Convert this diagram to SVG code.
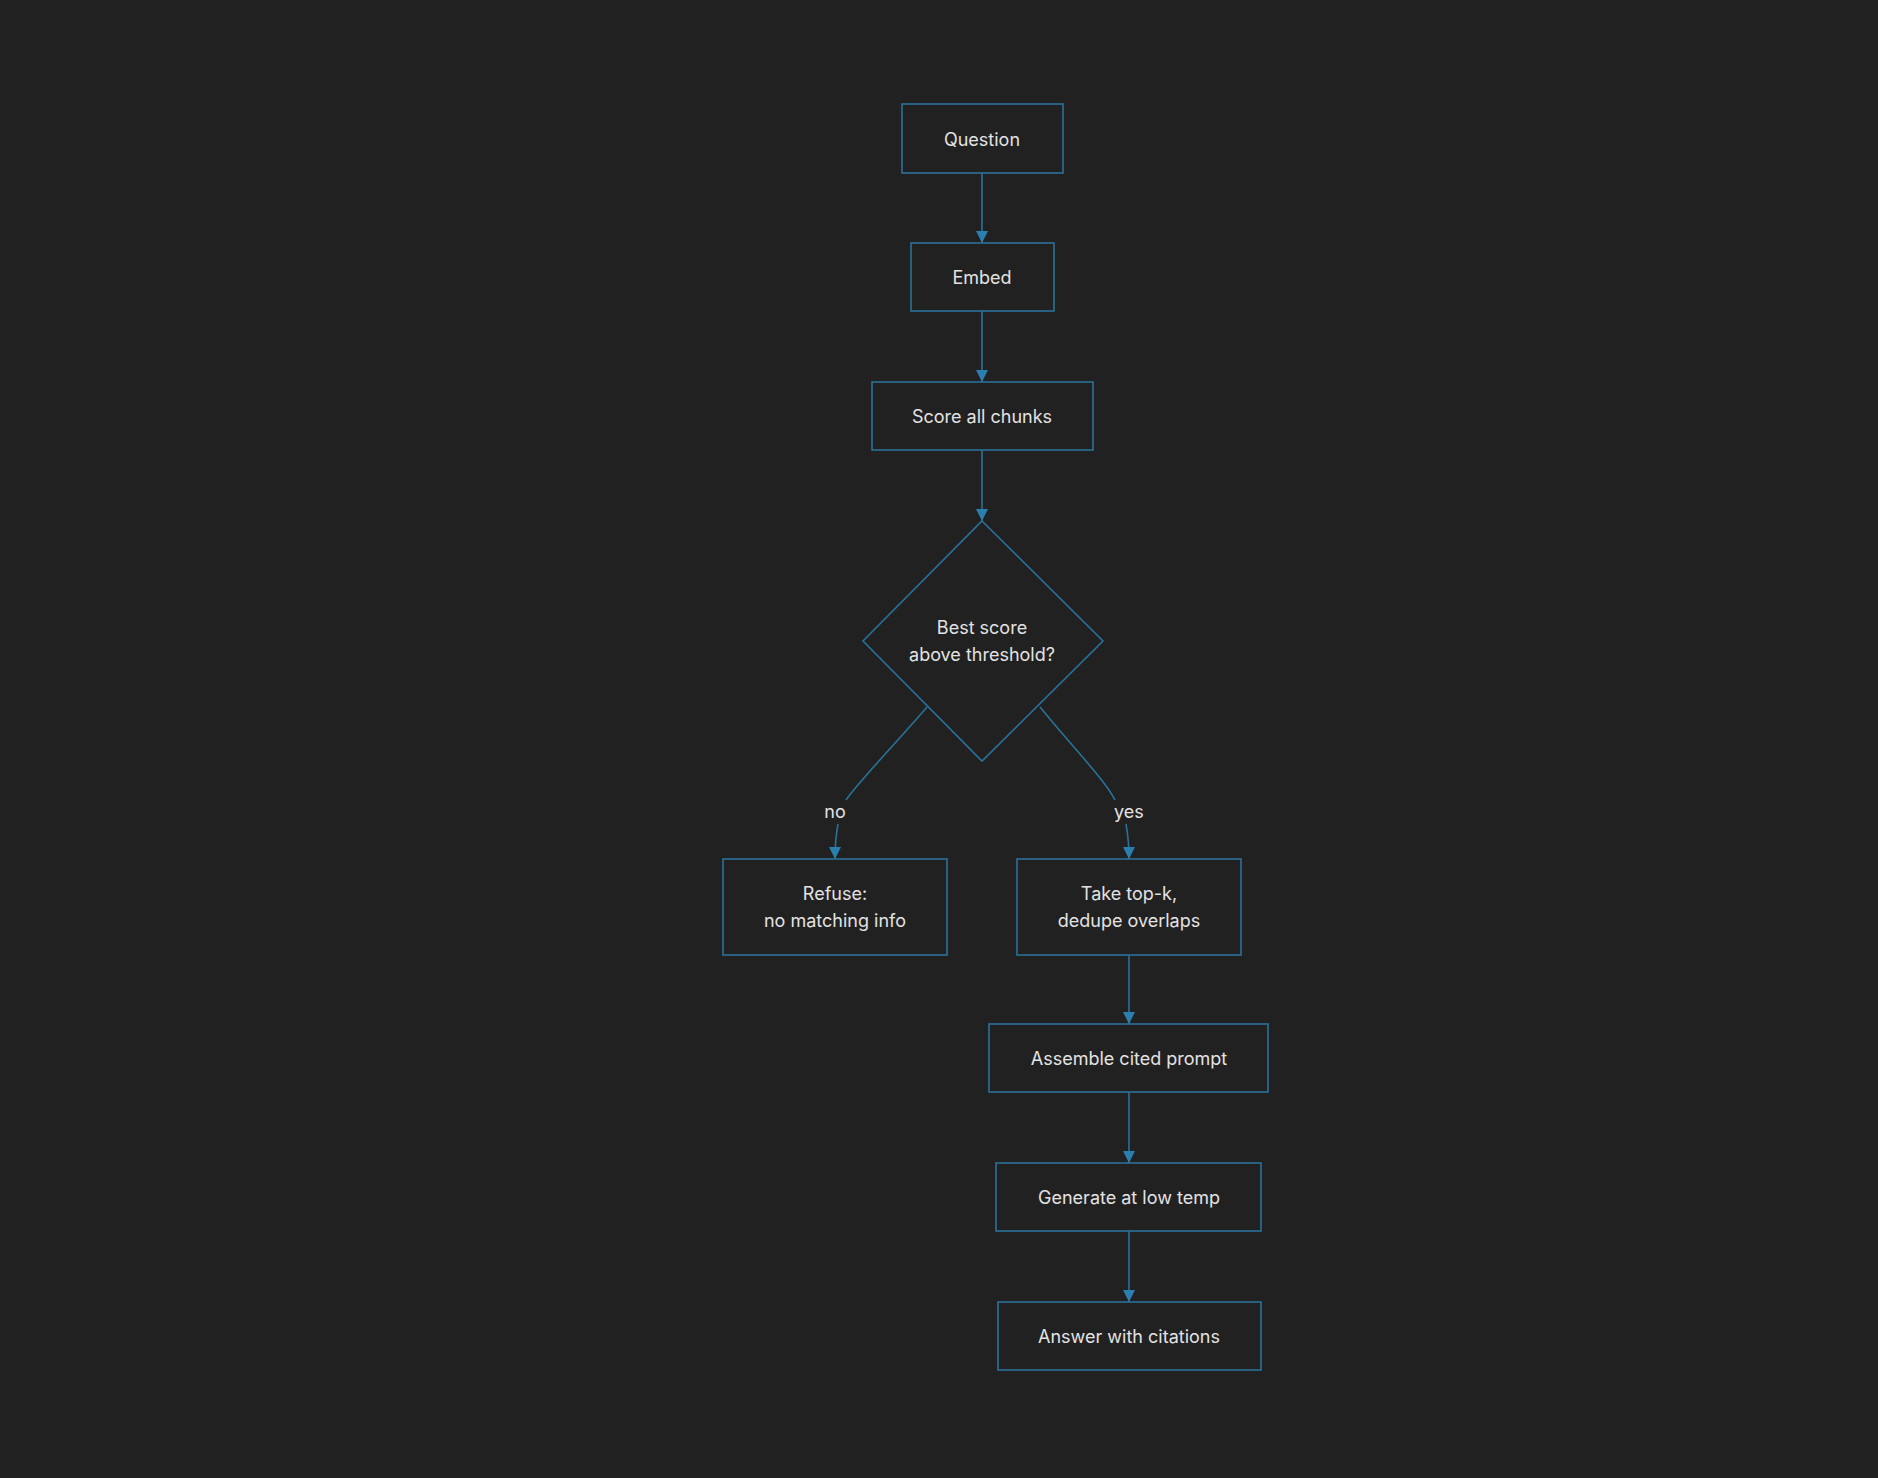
<svg xmlns="http://www.w3.org/2000/svg" width="1878" height="1478" viewBox="0 0 1878 1478">
<style>
.n{fill:#212121;stroke:#2a7199;stroke-width:1.6}
.t{fill:#e3e3e3;font-family:Inter,"Liberation Sans",sans-serif;font-size:18px;text-anchor:middle;dominant-baseline:central}
.e{fill:none;stroke:#2a7199;stroke-width:1.6}
.lb{fill:#e3e3e3;font-family:Inter,"Liberation Sans",sans-serif;font-size:18px;text-anchor:middle;dominant-baseline:central}
</style>
<defs><marker id="a" viewBox="0 0 10 10" refX="10" refY="5" markerWidth="7" markerHeight="7" orient="auto" markerUnits="userSpaceOnUse"><path d="M0,0L10,5L0,10z" fill="#2a7faf"/></marker>
<marker id="ar" viewBox="0 0 10 10" refX="10" refY="5" markerWidth="12" markerHeight="12" orient="auto" markerUnits="userSpaceOnUse"><path d="M0,0L10,5L0,10z" fill="#2a7faf"/></marker></defs>
<rect width="1878" height="1478" fill="#212121"/>
<g id="edges">
<path class="e" d="M982,173V243" marker-end="url(#ar)"/>
<path class="e" d="M982,311V382" marker-end="url(#ar)"/>
<path class="e" d="M982,450V521" marker-end="url(#ar)"/>
<path class="e" d="M927,707C890,750 860,780 846,800"/>
<path class="e" d="M838,824C836,835 835,845 835,859" marker-end="url(#ar)"/>
<path class="e" d="M1040,707C1075,750 1105,780 1115,800"/>
<path class="e" d="M1126,824C1128,835 1129,845 1129,859" marker-end="url(#ar)"/>
<path class="e" d="M1129,955V1024" marker-end="url(#ar)"/>
<path class="e" d="M1129,1092V1163" marker-end="url(#ar)"/>
<path class="e" d="M1129,1231V1302" marker-end="url(#ar)"/>
<text class="lb" x="835" y="811">no</text>
<text class="lb" x="1129" y="811">yes</text>
</g>
<g id="question"><rect class="n" x="902" y="104" width="161" height="69"/><text class="t" x="982" y="139">Question</text></g>
<g id="embed"><rect class="n" x="911" y="243" width="143" height="68"/><text class="t" x="982" y="277">Embed</text></g>
<g id="score"><rect class="n" x="872" y="382" width="221" height="68"/><text class="t" x="982" y="416">Score all chunks</text></g>
<g id="decision"><polygon class="n" points="982,521 1103,641 982,761 863,641"/><text class="t" x="982" y="627">Best score</text><text class="t" x="982" y="654">above threshold?</text></g>
<g id="refuse"><rect class="n" x="723" y="859" width="224" height="96"/><text class="t" x="835" y="893">Refuse:</text><text class="t" x="835" y="920">no matching info</text></g>
<g id="topk"><rect class="n" x="1017" y="859" width="224" height="96"/><text class="t" x="1129" y="893">Take top-k,</text><text class="t" x="1129" y="920">dedupe overlaps</text></g>
<g id="assemble"><rect class="n" x="989" y="1024" width="279" height="68"/><text class="t" x="1129" y="1058">Assemble cited prompt</text></g>
<g id="generate"><rect class="n" x="996" y="1163" width="265" height="68"/><text class="t" x="1129" y="1197">Generate at low temp</text></g>
<g id="answer"><rect class="n" x="998" y="1302" width="263" height="68"/><text class="t" x="1129" y="1336">Answer with citations</text></g>
</svg>
